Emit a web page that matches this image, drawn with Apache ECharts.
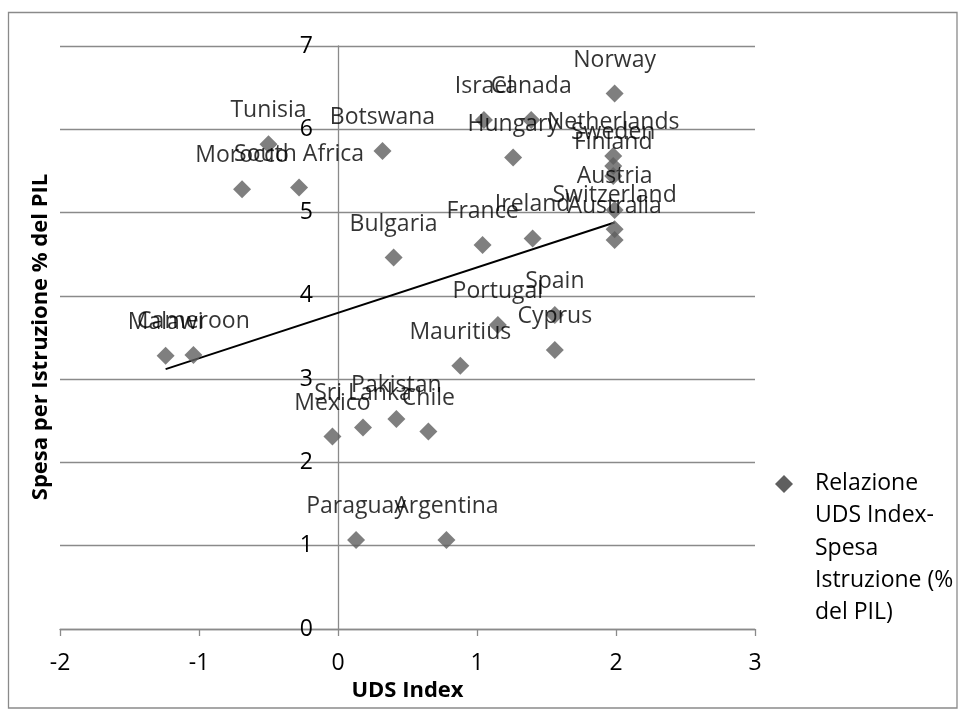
<!DOCTYPE html>
<html>
<head>
<meta charset="utf-8">
<title>UDS Index e Spesa per Istruzione</title>
<script src="https://cdn.jsdelivr.net/npm/echarts@6/dist/echarts.min.js"></script>
<style>
  html, body { margin: 0; padding: 0; background: #fff; }
  #chart { width: 958px; height: 709px; }
</style>
</head>
<body>
<div id="chart"></div>
<script>
// Paesi, indice UDS e spesa per istruzione (% del PIL)
var countries = ['Malawi', 'Cameroon', 'Tunisia', 'Morocco', 'South Africa', 'Botswana', 'Bulgaria',
  'Israel', 'Canada', 'Norway', 'Hungary', 'Netherlands', 'Sweden', 'Finland', 'Austria',
  'Switzerland', 'Australia', 'France', 'Ireland', 'Portugal', 'Spain', 'Cyprus', 'Mauritius',
  'Mexico', 'Sri Lanka', 'Pakistan', 'Chile', 'Paraguay', 'Argentina'];
var udsIndex = [-1.24, -1.04, -0.50, -0.69, -0.28, 0.32, 0.40,
  1.05, 1.39, 1.99, 1.26, 1.98, 1.98, 1.98, 1.99,
  1.99, 1.99, 1.04, 1.40, 1.15, 1.56, 1.56, 0.88,
  -0.04, 0.18, 0.42, 0.65, 0.13, 0.78];
var spesaIstruzione = [3.28, 3.29, 5.82, 5.28, 5.30, 5.74, 4.46,
  6.11, 6.11, 6.43, 5.66, 5.68, 5.56, 5.44, 5.03,
  4.80, 4.67, 4.61, 4.69, 3.65, 3.77, 3.35, 3.16,
  2.31, 2.42, 2.52, 2.37, 1.07, 1.07];
// Linea di tendenza lineare (estremi)
var trendX = [-1.24, 1.99];
var trendY = [3.12, 4.88];

var legendLines = ['Relazione', 'UDS Index-', 'Spesa', 'Istruzione (%', 'del PIL)'];
var FONT = '"Open Sans", "Noto Sans", sans-serif';
var GRAY = '#8a8a8a';
var MARK = '#5f5f5f';
var GRID = { left: 60, right: 203, top: 46, bottom: 80 };

var points = countries.map(function (c, i) {
  return { name: c, value: [udsIndex[i], spesaIstruzione[i]] };
});
var trend = trendX.map(function (x, i) { return [x, trendY[i]]; });

var chart = echarts.init(document.getElementById('chart'), null, { renderer: 'canvas' });
chart.setOption({
  backgroundColor: '#ffffff',
  animation: false,
  textStyle: { fontFamily: FONT },
  grid: { left: GRID.left, right: GRID.right, top: GRID.top, bottom: GRID.bottom, containLabel: false },
  xAxis: {
    type: 'value', min: -2, max: 3, interval: 1,
    name: 'UDS Index', nameLocation: 'middle', nameGap: 49,
    nameTextStyle: { fontFamily: FONT, fontSize: 22, fontWeight: 'bold', color: '#000' },
    axisLine: { onZero: false, lineStyle: { color: GRAY, width: 1.3 } },
    axisTick: { show: true, length: 7, lineStyle: { color: GRAY, width: 1.3 } },
    axisLabel: { fontFamily: FONT, fontSize: 23, color: '#000', margin: 23 },
    splitLine: { show: false }
  },
  yAxis: {
    type: 'value', min: 0, max: 7, interval: 1,
    axisLine: { show: true, onZero: true, lineStyle: { color: GRAY, width: 1.3 } },
    axisTick: { show: false },
    axisLabel: { fontFamily: FONT, fontSize: 23, color: '#000', margin: -253 },
    splitLine: { show: true, lineStyle: { color: GRAY, width: 1.3 } }
  },
  graphic: [
    { type: 'rect', shape: { x: 8.5, y: 12.5, width: 948.5, height: 695.5 },
      style: { fill: 'none', stroke: GRAY, lineWidth: 1.3 }, silent: true, z: -1 },
    { type: 'text', rotation: Math.PI / 2, x: 41, y: 337,
      style: { text: 'Spesa per Istruzione % del PIL', fontFamily: FONT, fontSize: 22,
        fontWeight: 'bold', fill: '#000', textAlign: 'center', textVerticalAlign: 'middle' } },
    // legenda
    { type: 'polygon', shape: { points: [[784, 475], [793, 484], [784, 493], [775, 484]] },
      style: { fill: MARK }, silent: true },
    { type: 'text', x: 815, y: 467,
      style: { text: legendLines.join('\n'), fontFamily: FONT, fontSize: 23, lineHeight: 32.4,
        fill: '#000', textAlign: 'left', textVerticalAlign: 'top' } }
  ],
  series: [
    {
      name: 'Relazione UDS Index-Spesa Istruzione (% del PIL)',
      type: 'scatter', symbol: 'diamond', symbolSize: 18,
      itemStyle: { color: MARK },
      data: points,
      label: {
        show: true, position: 'top', distance: 13,
        formatter: '{b}', fontFamily: FONT, fontSize: 23, color: '#000'
      },
      z: 3
    },
    {
      name: 'trend', type: 'line', data: trend, symbol: 'none',
      lineStyle: { color: '#000', width: 2 }, silent: true, z: 2
    }
  ]
});
</script>
</body>
</html>
